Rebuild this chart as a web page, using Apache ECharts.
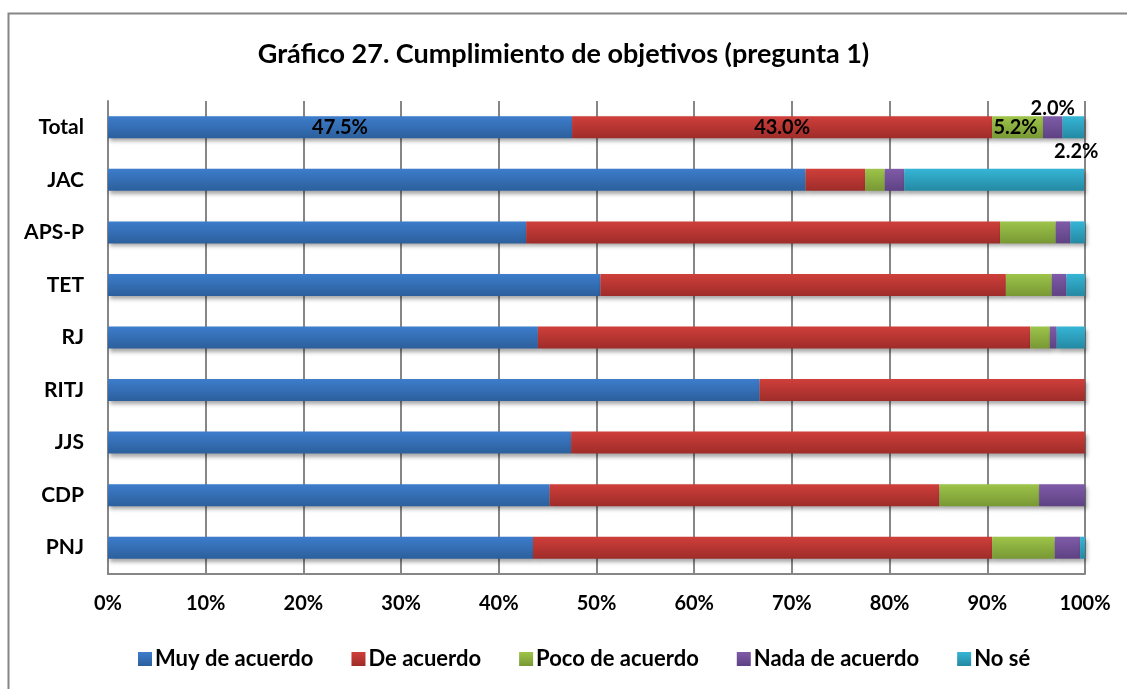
<!DOCTYPE html>
<html>
<head>
<meta charset="utf-8">
<script src="https://cdn.jsdelivr.net/npm/echarts@6/dist/echarts.min.js"></script>
<style>
  html, body { margin: 0; padding: 0; background: #fff; }
  #chart { width: 1127px; height: 689px; }
</style>
</head>
<body>
<div id="chart"></div>
<script>
// categories, top to bottom as in the picture
var categories = ['Total', 'JAC', 'APS-P', 'TET', 'RJ', 'RITJ', 'JJS', 'CDP', 'PNJ'];
var seriesNames = ['Muy de acuerdo', 'De acuerdo', 'Poco de acuerdo', 'Nada de acuerdo', 'No sé'];

// percentages per category (same order as categories)
var muyDeAcuerdo   = [47.5, 71.4, 42.8, 50.4, 44.0, 66.7, 47.4, 45.2, 43.5];
var deAcuerdo      = [43.0,  6.1, 48.5, 41.5, 50.4, 33.3, 52.6, 39.9, 47.0];
var pocoDeAcuerdo  = [ 5.2,  2.0,  5.7,  4.7,  2.0,  0,    0,   10.2,  6.4];
var nadaDeAcuerdo  = [ 2.0,  2.0,  1.5,  1.5,  0.7,  0,    0,    4.7,  2.6];
var noSe           = [ 2.2, 18.4,  1.5,  1.9,  2.9,  0,    0,    0,    0.5];

var xTicks = [0, 10, 20, 30, 40, 50, 60, 70, 80, 90, 100];

var FONT = 'Lato';

function grad(top, bottom) {
  return new echarts.graphic.LinearGradient(0, 0, 0, 1, [
    { offset: 0, color: top },
    { offset: 1, color: bottom }
  ]);
}

var colors = [
  ['#3d7dcc', '#2c5f9c'],
  ['#cf3f3b', '#9e2c29'],
  ['#9dc44a', '#789834'],
  ['#7f5ba8', '#5e4283'],
  ['#36b5d6', '#2489a2']
];

// labels are only shown on the Total bar
function totalLabel(pos, dx, dy) {
  return {
    show: true,
    position: pos,
    offset: [dx || 0, dy || 0],
    formatter: function (p) { return p.value.toFixed(1) + '%'; },
    color: '#000',
    fontFamily: FONT,
    fontWeight: 'bold',
    fontSize: 20
  };
}

var totalLabels = [
  totalLabel('inside'),
  totalLabel('inside'),
  totalLabel('inside', -2, 0),
  totalLabel('top', 0, 7),
  totalLabel('bottom', 3, -2)
];

var dataSets = [muyDeAcuerdo, deAcuerdo, pocoDeAcuerdo, nadaDeAcuerdo, noSe];

var series = dataSets.map(function (arr, i) {
  return {
    name: seriesNames[i],
    type: 'bar',
    stack: 'all',
    barWidth: 22,
    itemStyle: {
      color: grad(colors[i][0], colors[i][1]),
      shadowColor: 'rgba(0,0,0,0.35)',
      shadowBlur: 4,
      shadowOffsetX: 2,
      shadowOffsetY: 3
    },
    data: arr.map(function (v, j) {
      var d = { value: v };
      if (j === 0) d.label = totalLabels[i];
      return d;
    })
  };
});

var chart = echarts.init(document.getElementById('chart'));
chart.setOption({
  animation: false,
  color: colors.map(function (c) { return c[0]; }),
  title: {
    text: 'Gráfico 27. Cumplimiento de objetivos (pregunta 1)',
    left: 'center',
    top: 36,
    textStyle: { fontFamily: FONT, fontWeight: 'bold', fontSize: 27, color: '#000' }
  },
  graphic: [{
    type: 'rect',
    shape: { x: 8.5, y: 13.5, width: 1130, height: 690 },
    style: { fill: 'none', stroke: '#868686', lineWidth: 2 },
    silent: true
  }],
  legend: {
    bottom: 14,
    left: 133,
    itemWidth: 14,
    itemHeight: 14,
    itemGap: 38,
    icon: 'rect',
    textStyle: { fontFamily: FONT, fontWeight: 'bold', fontSize: 22, color: '#000', padding: [0, 0, 0, -2] },
    data: seriesNames
  },
  grid: { left: 108, right: 42, top: 101, bottom: 115, containLabel: false },
  xAxis: {
    type: 'value',
    min: 0,
    max: 100,
    interval: 10,
    axisLine: { show: true, lineStyle: { color: '#868686', width: 2 } },
    axisTick: { show: false },
    splitLine: { show: true, lineStyle: { color: '#868686', width: 2 } },
    axisLabel: {
      margin: 20,
      formatter: function (v) { return xTicks.indexOf(v) >= 0 ? v + '%' : ''; },
      fontFamily: FONT, fontWeight: 'bold', fontSize: 20, color: '#000'
    }
  },
  yAxis: {
    type: 'category',
    inverse: true,
    data: categories,
    axisLine: { show: true, lineStyle: { color: '#868686', width: 2 } },
    axisTick: { show: false },
    axisLabel: {
      margin: 24,
      fontFamily: FONT, fontWeight: 'bold', fontSize: 21, color: '#000'
    }
  },
  series: series
});
</script>
</body>
</html>
